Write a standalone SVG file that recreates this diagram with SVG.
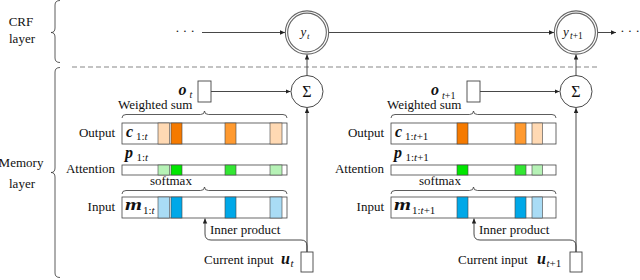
<svg xmlns="http://www.w3.org/2000/svg" width="640" height="280" viewBox="0 0 640 280">
<defs>
<marker id="ah" markerUnits="userSpaceOnUse" markerWidth="6" markerHeight="5" refX="5" refY="2.25" orient="auto">
<path d="M0,0 L5,2.25 L0,4.5 Z" fill="#222"/>
</marker>
<style>
.t{font-family:Liberation Serif,Times New Roman,Times,serif;fill:#111}
.lbl{font-size:13px}
.vec{font-size:16px;font-weight:bold;font-style:italic}
.sub{font-size:11px}
.osub{font-size:10px}
.it{font-style:italic}
.arr{fill:none;stroke:#333;stroke-width:0.9;marker-end:url(#ah)}
.bar{fill:#fff;stroke:#444;stroke-width:0.8}
.cell{stroke:#444;stroke-width:0.6}
.box{fill:#fff;stroke:#444;stroke-width:0.9}
.brace{fill:none;stroke:#333;stroke-width:0.8}
.lo{fill:#FFD9B3}.do{fill:#F57A00}.mo{fill:#FF9A30}
.lg{fill:#B6F2B6}.bg{fill:#00E600}.mg{fill:#33E633}
.lb{fill:#A9DCF5}.bb{fill:#00A8E8}
.dbl{fill:#fff;stroke:#666;stroke-width:3.4}
.dbl2{fill:none;stroke:#fff;stroke-width:1.2}
</style>
</defs>
<rect width="640" height="280" fill="#fff"/>

<g id="layer-labels" class="t">
<text class="lbl" x="21" y="26" text-anchor="middle">CRF</text>
<text class="lbl" x="22" y="43" text-anchor="middle">layer</text>
<path class="brace" d="M60 0.5 Q55 0.5 55 5 L55 28 Q55 32.5 51 32.5 Q55 32.5 55 37 L55 58 Q55 62.5 60 62.5"/>
<text class="lbl" x="21" y="167" text-anchor="middle">Memory</text>
<text class="lbl" x="22" y="188" text-anchor="middle">layer</text>
<path class="brace" d="M60 67.5 Q55 67.5 55 72 L55 168 Q55 172.5 51 172.5 Q55 172.5 55 177 L55 273 Q55 277.5 60 277.5"/>
<line x1="72" y1="67" x2="600" y2="67" stroke="#888" stroke-width="1.2" stroke-dasharray="5 3"/>
</g>

<g id="connectors">
<path class="arr" d="M202 32.5 L285 32.5"/>
<path class="arr" d="M328.5 32.5 L554 32.5"/>
<path class="arr" d="M597.5 32.5 L616 32.5"/>
<path class="arr" d="M307 75.5 L307 54.5"/>
<path class="arr" d="M576 75.5 L576 54.5"/>
<path class="arr" d="M211 91.5 L290.5 91.5"/>
<path class="arr" d="M480 91.5 L559.5 91.5"/>
<path class="arr" d="M307 252 L307 108"/>
<path class="arr" d="M576 252 L576 108"/>
<path class="arr" d="M307 252 L307 246 Q307 240 301 240 L211 240 Q205 240 205 234 L205 218.5"/>
<path class="arr" d="M576 252 L576 246 Q576 240 570 240 L480 240 Q474 240 474 234 L474 218.5"/>
</g>

<g id="dots-left" class="t"><text class="lbl" x="185" y="35" text-anchor="middle">· · ·</text></g>
<g id="dots-right" class="t"><text class="lbl" x="630" y="35" text-anchor="middle">· · ·</text></g>

<g id="y_t" class="t">
<circle class="dbl" cx="307" cy="32.5" r="20.5"/>
<circle class="dbl2" cx="307" cy="32.5" r="20.5"/>
<text x="300.5" y="36" font-size="13" class="it">y</text><text x="307" y="38.5" font-size="9" class="it">t</text>
</g>
<g id="y_t1" class="t">
<circle class="dbl" cx="576" cy="32.5" r="20.5"/>
<circle class="dbl2" cx="576" cy="32.5" r="20.5"/>
<text x="563" y="36" font-size="13" class="it">y</text><text x="570" y="38.5" font-size="9.5"><tspan class="it">t</tspan>+1</text>
</g>

<g id="sum_t" class="t">
<circle cx="307" cy="91.5" r="16" fill="#fff" stroke="#333" stroke-width="0.9"/>
<text x="307" y="97" font-size="16" text-anchor="middle">Σ</text>
</g>
<g id="sum_t1" class="t">
<circle cx="576" cy="91.5" r="16" fill="#fff" stroke="#333" stroke-width="0.9"/>
<text x="576" y="97" font-size="16" text-anchor="middle">Σ</text>
</g>

<g id="o_t" class="t">
<rect class="box" x="198" y="81" width="13" height="21"/>
<text class="vec" x="178.5" y="94.5">o</text><text class="osub it" x="189.5" y="98">t</text>
</g>
<g id="o_t1" class="t">
<rect class="box" x="467" y="81" width="13" height="21"/>
<text class="vec" x="431" y="94.5">o</text><text class="osub" x="442" y="98.5"><tspan class="it">t</tspan>+1</text>
</g>

<g id="memory-t" class="t">
<text class="lbl" x="118" y="108.5">Weighted sum</text>
<path class="brace" d="M122 118 Q122 114.5 126 114.5 L200.5 114.5 Q204.5 114.5 204.5 111 Q204.5 114.5 208.5 114.5 L283 114.5 Q287 114.5 287 118"/>
<text class="lbl" x="115" y="137" text-anchor="end">Output</text>
<rect class="bar" x="122" y="123" width="165" height="21"/>
<rect class="cell lo" x="158" y="123" width="11.5" height="21"/>
<rect class="cell do" x="171" y="123" width="11" height="21"/>
<rect class="cell mo" x="225" y="123" width="11" height="21"/>
<rect class="cell lo" x="270" y="123" width="12" height="21"/>
<text class="vec" x="126" y="137">c</text><text class="sub" x="136" y="140">1:<tspan class="it">t</tspan></text>

<text class="lbl" x="115" y="173" text-anchor="end">Attention</text>
<text class="vec" x="125" y="158">p</text><text class="sub" x="136.5" y="161">1:<tspan class="it">t</tspan></text>
<rect class="bar" x="122" y="165" width="165" height="10"/>
<rect class="cell lg" x="158" y="165" width="11.5" height="10"/>
<rect class="cell bg" x="171" y="165" width="11" height="10"/>
<rect class="cell mg" x="225" y="165" width="11" height="10"/>
<rect class="cell lg" x="270" y="165" width="12" height="10"/>

<text class="lbl" x="150" y="185">softmax</text>
<path class="brace" d="M122 194 Q122 190.5 126 190.5 L200.5 190.5 Q204.5 190.5 204.5 187 Q204.5 190.5 208.5 190.5 L283 190.5 Q287 190.5 287 194"/>
<text class="lbl" x="115" y="211" text-anchor="end">Input</text>
<rect class="bar" x="122" y="197" width="165" height="21"/>
<rect class="cell lb" x="158" y="197" width="11.5" height="21"/>
<rect class="cell bb" x="171" y="197" width="11" height="21"/>
<rect class="cell bb" x="225" y="197" width="11" height="21"/>
<rect class="cell lb" x="270" y="197" width="12" height="21"/>
<text class="vec" x="125" y="210" textLength="17" lengthAdjust="spacingAndGlyphs">m</text><text class="sub" x="143" y="214">1:<tspan class="it">t</tspan></text>
<text class="lbl" x="210" y="234">Inner product</text>
</g>

<g id="u_t" class="t">
<rect class="box" x="301" y="252" width="12" height="20"/>
<text class="lbl" x="204" y="264">Current input</text>
<text class="vec" x="281" y="264">u</text><text class="sub it" x="290.5" y="267">t</text>
</g>

<g id="memory-t1" class="t">
<text class="lbl" x="387" y="108.5">Weighted sum</text>
<path class="brace" d="M391 118 Q391 114.5 395 114.5 L469.5 114.5 Q473.5 114.5 473.5 111 Q473.5 114.5 477.5 114.5 L552 114.5 Q556 114.5 556 118"/>
<text class="lbl" x="384" y="137" text-anchor="end">Output</text>
<rect class="bar" x="391" y="123" width="165" height="21"/>
<rect class="cell do" x="457" y="123" width="11" height="21"/>
<rect class="cell mo" x="515" y="123" width="11" height="21"/>
<rect class="cell lo" x="532" y="123" width="10.5" height="21"/>
<text class="vec" x="395" y="137">c</text><text class="sub" x="405" y="140">1:<tspan class="it">t</tspan>+1</text>

<text class="lbl" x="384" y="173" text-anchor="end">Attention</text>
<text class="vec" x="394" y="158">p</text><text class="sub" x="405.5" y="161">1:<tspan class="it">t</tspan>+1</text>
<rect class="bar" x="391" y="165" width="165" height="10"/>
<rect class="cell bg" x="457" y="165" width="11" height="10"/>
<rect class="cell mg" x="515" y="165" width="11" height="10"/>
<rect class="cell lg" x="532" y="165" width="10.5" height="10"/>

<text class="lbl" x="419" y="185">softmax</text>
<path class="brace" d="M391 194 Q391 190.5 395 190.5 L469.5 190.5 Q473.5 190.5 473.5 187 Q473.5 190.5 477.5 190.5 L552 190.5 Q556 190.5 556 194"/>
<text class="lbl" x="384" y="211" text-anchor="end">Input</text>
<rect class="bar" x="391" y="197" width="165" height="21"/>
<rect class="cell bb" x="457" y="197" width="11" height="21"/>
<rect class="cell bb" x="515" y="197" width="11" height="21"/>
<rect class="cell lb" x="532" y="197" width="10.5" height="21"/>
<text class="vec" x="394" y="210" textLength="17" lengthAdjust="spacingAndGlyphs">m</text><text class="sub" x="412" y="214">1:<tspan class="it">t</tspan>+1</text>
<text class="lbl" x="479" y="234">Inner product</text>
</g>

<g id="u_t1" class="t">
<rect class="box" x="570" y="252" width="12" height="20"/>
<text class="lbl" x="458" y="264">Current input</text>
<text class="vec" x="537" y="264">u</text><text class="sub" x="546.5" y="267"><tspan class="it">t</tspan>+1</text>
</g>
</svg>
